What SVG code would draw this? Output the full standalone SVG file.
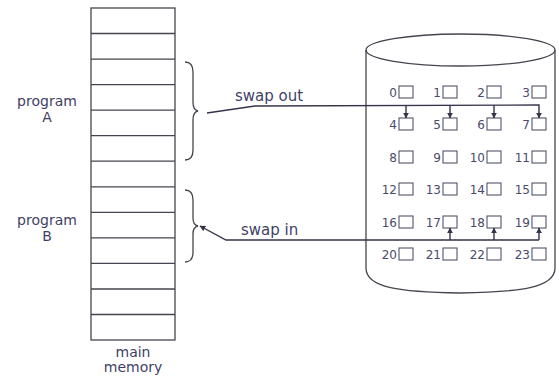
<svg xmlns="http://www.w3.org/2000/svg" width="559" height="377" viewBox="0 0 559 377">
<style>
.ln{fill:none;stroke:#45454f;stroke-width:1.3}
.t{font-family:"DejaVu Sans",sans-serif;font-size:14px;fill:#3f3f66}
.s{font-family:"DejaVu Sans",sans-serif;font-size:15px;fill:#3f3f66}
.n{font-family:"DejaVu Sans",sans-serif;font-size:12px;fill:#4a4a6a;text-anchor:end}
.bx{fill:#fff;stroke:#55556a;stroke-width:1.1}
.c{fill:none;stroke:#33334a;stroke-width:1.4}
</style>
<defs>
<marker id="ah" viewBox="0 0 10 10" refX="9" refY="5" markerWidth="6" markerHeight="6" orient="auto" markerUnits="userSpaceOnUse">
<path d="M0,0 L10,5 L0,10 z" fill="#33334a"/>
</marker>
</defs>
<rect width="559" height="377" fill="#fff"/>
<g id="memory">
<rect class="ln" x="91" y="8" width="84" height="332"/>
<path class="ln" d="M91,33.5H175M91,59.1H175M91,84.6H175M91,110.2H175M91,135.7H175M91,161.2H175M91,186.8H175M91,212.3H175M91,237.9H175M91,263.4H175M91,289H175M91,314.5H175"/>
<text class="t" x="133" y="357" text-anchor="middle">main</text>
<text class="t" x="133" y="372" text-anchor="middle">memory</text>
</g>
<g id="programA">
<path class="ln" d="M185,62 Q193,62 193,72 L193,102 Q193,110 198,111 Q193,112 193,120 L193,150 Q193,160 185,160"/>
<text class="t" x="47" y="106" text-anchor="middle">program</text>
<text class="t" x="47" y="122" text-anchor="middle">A</text>
</g>
<g id="programB">
<path class="ln" d="M185,190 Q193,190 193,200 L193,218 Q193,225 198,226 Q193,227 193,234 L193,252 Q193,262 185,262"/>
<text class="t" x="47" y="225" text-anchor="middle">program</text>
<text class="t" x="47" y="241" text-anchor="middle">B</text>
</g>
<g id="disk">
<ellipse class="ln" cx="460.5" cy="50" rx="94.5" ry="16"/>
<path class="ln" d="M366,50 L366,268 C366,288 400,292 460,293 C520,292 555,288 555,268 L555,50"/>
<g id="blocks">
<text class="n" x="397" y="97">0</text><rect class="bx" x="399" y="86" width="14" height="12"/>
<text class="n" x="441" y="97">1</text><rect class="bx" x="443" y="86" width="14" height="12"/>
<text class="n" x="485" y="97">2</text><rect class="bx" x="487" y="86" width="14" height="12"/>
<text class="n" x="530" y="97">3</text><rect class="bx" x="532" y="86" width="14" height="12"/>
<text class="n" x="397" y="129">4</text><rect class="bx" x="399" y="118" width="14" height="12"/>
<text class="n" x="441" y="129">5</text><rect class="bx" x="443" y="118" width="14" height="12"/>
<text class="n" x="485" y="129">6</text><rect class="bx" x="487" y="118" width="14" height="12"/>
<text class="n" x="530" y="129">7</text><rect class="bx" x="532" y="118" width="14" height="12"/>
<text class="n" x="397" y="162">8</text><rect class="bx" x="399" y="151" width="14" height="12"/>
<text class="n" x="441" y="162">9</text><rect class="bx" x="443" y="151" width="14" height="12"/>
<text class="n" x="485" y="162">10</text><rect class="bx" x="487" y="151" width="14" height="12"/>
<text class="n" x="530" y="162">11</text><rect class="bx" x="532" y="151" width="14" height="12"/>
<text class="n" x="397" y="194">12</text><rect class="bx" x="399" y="183" width="14" height="12"/>
<text class="n" x="441" y="194">13</text><rect class="bx" x="443" y="183" width="14" height="12"/>
<text class="n" x="485" y="194">14</text><rect class="bx" x="487" y="183" width="14" height="12"/>
<text class="n" x="530" y="194">15</text><rect class="bx" x="532" y="183" width="14" height="12"/>
<text class="n" x="397" y="227">16</text><rect class="bx" x="399" y="216" width="14" height="12"/>
<text class="n" x="441" y="227">17</text><rect class="bx" x="443" y="216" width="14" height="12"/>
<text class="n" x="485" y="227">18</text><rect class="bx" x="487" y="216" width="14" height="12"/>
<text class="n" x="530" y="227">19</text><rect class="bx" x="532" y="216" width="14" height="12"/>
<text class="n" x="397" y="259">20</text><rect class="bx" x="399" y="248" width="14" height="12"/>
<text class="n" x="441" y="259">21</text><rect class="bx" x="443" y="248" width="14" height="12"/>
<text class="n" x="485" y="259">22</text><rect class="bx" x="487" y="248" width="14" height="12"/>
<text class="n" x="530" y="259">23</text><rect class="bx" x="532" y="248" width="14" height="12"/>
</g>
</g>
<g id="connectors">
<path class="c" d="M207,113 L255,106 L539,105 L539,118" marker-end="url(#ah)"/>
<path class="c" d="M406,105 L406,118" marker-end="url(#ah)"/>
<path class="c" d="M450,105 L450,118" marker-end="url(#ah)"/>
<path class="c" d="M494,105 L494,118" marker-end="url(#ah)"/>
<text class="s" x="235" y="101">swap out</text>
<path class="c" d="M539,240 L226,240 L200,226" marker-end="url(#ah)"/>
<path class="c" d="M450,240 L450,228" marker-end="url(#ah)"/>
<path class="c" d="M494,240 L494,228" marker-end="url(#ah)"/>
<path class="c" d="M539,240 L539,228" marker-end="url(#ah)"/>
<text class="s" x="241" y="235">swap in</text>
</g>
</svg>
